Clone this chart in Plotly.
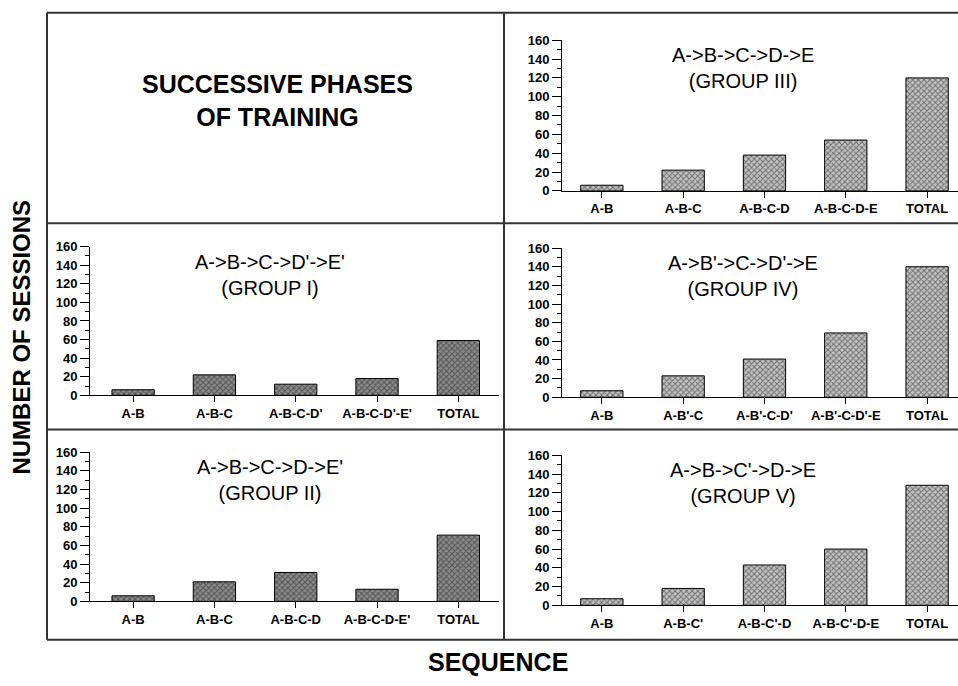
import plotly.graph_objects as go

W, H = 958, 686

# ---- data ----
labels_g1 = ["A-B", "A-B-C", "A-B-C-D'", "A-B-C-D'-E'", "TOTAL"]
values_g1 = [6, 22, 12, 18, 59]
labels_g2 = ["A-B", "A-B-C", "A-B-C-D", "A-B-C-D-E'", "TOTAL"]
values_g2 = [6, 21, 31, 13, 71]
labels_g3 = ["A-B", "A-B-C", "A-B-C-D", "A-B-C-D-E", "TOTAL"]
values_g3 = [6, 22, 38, 54, 120]
labels_g4 = ["A-B", "A-B'-C", "A-B'-C-D'", "A-B'-C-D'-E", "TOTAL"]
values_g4 = [7, 23, 41, 69, 140]
labels_g5 = ["A-B", "A-B-C'", "A-B-C'-D", "A-B-C'-D-E", "TOTAL"]
values_g5 = [7, 18, 43, 60, 128]

titles = {
    "g1": "A->B->C->D'->E'<br>(GROUP I)",
    "g2": "A->B->C->D->E'<br>(GROUP II)",
    "g3": "A->B->C->D->E<br>(GROUP III)",
    "g4": "A->B'->C->D'->E<br>(GROUP IV)",
    "g5": "A->B->C'->D->E<br>(GROUP V)",
}
y_ticks = [0, 20, 40, 60, 80, 100, 120, 140, 160]

FONT = "Liberation Sans, Arial, sans-serif"

def px_x(p):
    return p / W

def px_y(p):
    return 1 - p / H

# panel geometry in page pixels: (x0, x1, y_zero, y_160, xrange, side, title_x)
panels = [
    ("g1", labels_g1, values_g1, 90, 499, 397, 245, [-0.53, 4.5], "left", 270),
    ("g2", labels_g2, values_g2, 90, 499, 607.7, 455, [-0.53, 4.5], "left", 270),
    ("g3", labels_g3, values_g3, 562, 958, 188, 34, [-0.49, 4.38], "right", 743),
    ("g4", labels_g4, values_g4, 562, 958, 399, 246.5, [-0.49, 4.38], "right", 743),
    ("g5", labels_g5, values_g5, 562, 958, 611.7, 458.3, [-0.49, 4.38], "right", 743),
]

fig = go.Figure()
annotations = []

for i, (key, labs, vals, x0, x1, yz, y160, xr, side, tx) in enumerate(panels, start=1):
    xa = "x" if i == 1 else f"x{i}"
    ya = "y" if i == 1 else f"y{i}"
    bg = "#8c8c8c" if side == "left" else "#c4c4c4"
    fig.add_trace(go.Bar(
        x=list(range(len(labs))), y=vals, xaxis=xa, yaxis=ya, width=0.52,
        marker=dict(color=bg, line=dict(color="black", width=1),
                    pattern=dict(shape="x", fgcolor="#1a1a1a", bgcolor=bg,
                                 size=4, solidity=0.45)),
        showlegend=False, hoverinfo="skip",
    ))
    xname = "xaxis" if i == 1 else f"xaxis{i}"
    yname = "yaxis" if i == 1 else f"yaxis{i}"
    fig.layout[xname] = dict(
        domain=[px_x(x0), min(1.0, px_x(x1))], range=xr, anchor=ya,
        tickvals=list(range(len(labs))), ticktext=labs,
        showline=True, linecolor="black", linewidth=1,
        ticks="outside", ticklen=6, tickcolor="black", tickwidth=1,
        showgrid=False, zeroline=False, fixedrange=True,
        tickfont=dict(family=FONT, size=13, color="black", weight="bold"),
    )
    fig.layout[yname] = dict(
        domain=[px_y(yz), px_y(y160)], range=[0, 160], anchor=xa,
        tickvals=y_ticks,
        showline=True, linecolor="black", linewidth=1,
        ticks="outside", ticklen=9, tickcolor="black", tickwidth=1,
        minor=dict(dtick=10, tick0=0, ticks="outside", ticklen=4,
                   tickcolor="black", tickwidth=1, showgrid=False),
        showgrid=False, zeroline=False, fixedrange=True,
        tickfont=dict(family=FONT, size=13, color="black", weight="bold"),
    )
    annotations.append(dict(
        text=titles[key], x=px_x(tx), y=px_y(y160 + 2),
        xref="paper", yref="paper",
        xanchor="center", yanchor="top", showarrow=False, align="center",
        font=dict(family=FONT, size=20, color="black"),
    ))

annotations += [
    dict(text="SUCCESSIVE PHASES<br>OF TRAINING", x=px_x(277), y=px_y(62),
         xref="paper", yref="paper", xanchor="center", yanchor="top",
         showarrow=False, align="center",
         font=dict(family=FONT, size=25, color="black", weight="bold")),
    dict(text="NUMBER OF SESSIONS", x=px_x(22), y=px_y(338), textangle=-90,
         xref="paper", yref="paper", xanchor="center", yanchor="middle",
         showarrow=False, font=dict(family=FONT, size=24, color="black", weight="bold")),
    dict(text="SEQUENCE", x=px_x(498), y=px_y(670),
         xref="paper", yref="paper", xanchor="center", yanchor="middle",
         showarrow=False, font=dict(family=FONT, size=25, color="black", weight="bold")),
]

# frame lines (page pixel coordinates -> paper)
line_style = dict(color="#333333", width=2)
frame = [
    (47, 6, 958, 6), (47, 6, 47, 647), (47, 647, 958, 647),
    (504, 6, 504, 647), (47, 221, 958, 221), (47, 432, 958, 432),
]
shapes = [dict(type="line", xref="paper", yref="paper",
               x0=px_x(a), y0=px_y(b), x1=px_x(c), y1=px_y(d), line=line_style)
          for a, b, c, d in frame]

fig.update_layout(
    width=W, height=H, margin=dict(l=0, r=0, t=0, b=0),
    paper_bgcolor="white", plot_bgcolor="rgba(0,0,0,0)",
    annotations=annotations, shapes=shapes,
    font=dict(family=FONT, color="black"),
)

fig.write_html("out.html", config={"displayModeBar": False},
               post_script="document.body.style.margin='0px';")
